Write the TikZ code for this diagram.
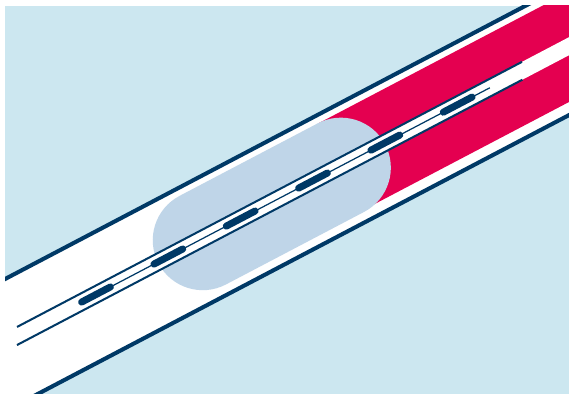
\documentclass[tikz,border=0pt]{standalone}
\usepackage{tikz}
\definecolor{VesselBg}{RGB}{204,231,240}
\definecolor{VesselDark}{RGB}{0,57,102}
\definecolor{BalloonRed}{RGB}{228,0,80}
\definecolor{BalloonPale}{RGB}{191,213,232}

\begin{document}
\begin{tikzpicture}[
    x=0.02cm,
    y=-0.02cm,
    wall/.style={
        draw=VesselDark,
        line width=2.3pt
    },
    guide/.style={
        draw=VesselDark,
        line width=1.15pt
    },
    marker/.style={
        draw=VesselDark,
        line width=4pt,
        line cap=round
    },
    wire/.style={
        draw=VesselDark,
        line width=0.7pt
    }
]

\fill[white] (0,0) rectangle (569,394);
\useasboundingbox (0,0) rectangle (569,394);
\fill[VesselBg] (5,6) rectangle (569,394);

\begin{scope}
\clip (5,6) rectangle (569,394);
\begin{scope}[shift={(17,336)}, rotate=27.7]

% vessel
\fill[white] (-100,-56) rectangle (720,61);
\draw[wall] (-100,-56) -- (720,-56);
\draw[wall] (-100,61) -- (720,61);

% balloon
\fill[BalloonRed] (365,-48.2) rectangle (720,49.4);
\fill[BalloonPale] (209,-48.5) -- (365,-48.5)
    arc[start angle=90, end angle=-90, radius=1cm] -- (209,51.5)
    arc[start angle=270, end angle=90, radius=1cm] -- cycle;

% catheter
\fill[white] (150,-8) rectangle (720,8);
\draw[guide] (4.2,-8) -- (574.6,-8);
\draw[guide] (-4.2,8) -- (566.7,8);
\draw[wire] (90,0) -- (534,0);

\draw[marker] (73,0) -- (105.5,0);
\draw[marker] (154.7,0) -- (187.2,0);
\draw[marker] (236.4,0) -- (268.9,0);
\draw[marker] (318.1,0) -- (350.6,0);
\draw[marker] (399.8,0) -- (432.3,0);
\draw[marker] (481.5,0) -- (514,0);

\end{scope}
\end{scope}

\end{tikzpicture}
\end{document}
